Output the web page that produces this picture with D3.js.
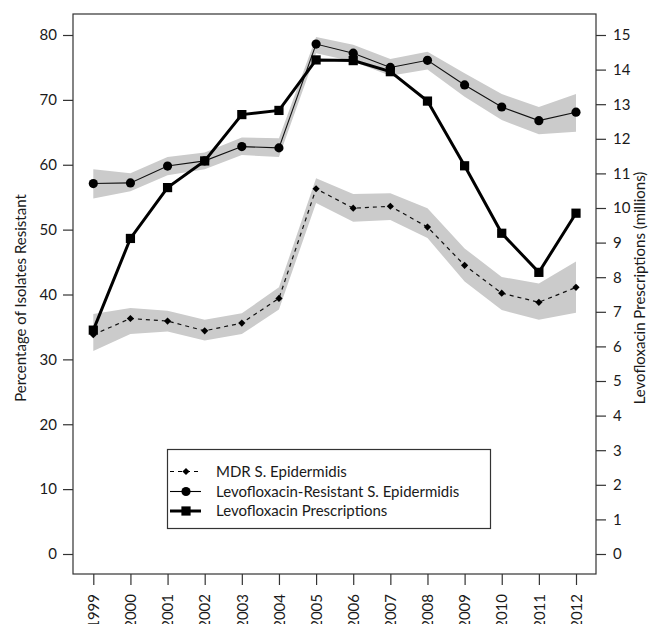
<!DOCTYPE html>
<html>
<head>
<meta charset="utf-8">
<script src="https://cdn.jsdelivr.net/npm/d3@7"></script>
<style>
  body { margin: 0; background: #fff; }
  svg { display: block; }
  text { font-family: Lato, "Open Sans", sans-serif; fill: #1a1a1a; }
</style>
</head>
<body>
<script>
const WIDTH = 655;
const HEIGHT = 624;
const FONT = 15;

const years = [1999, 2000, 2001, 2002, 2003, 2004, 2005, 2006, 2007, 2008, 2009, 2010, 2011, 2012];

// MDR S. epidermidis (% resistant) with shaded band
const mdr     = [33.8, 36.3, 35.9, 34.4, 35.6, 39.4, 56.3, 53.3, 53.6, 50.4, 44.5, 40.2, 38.8, 41.1];
const mdrLow  = [31.3, 33.9, 34.3, 32.9, 33.9, 37.7, 54.1, 51.2, 51.5, 48.7, 42.0, 37.6, 36.1, 37.2];
const mdrHigh = [37.0, 37.9, 37.5, 36.1, 37.1, 41.1, 57.9, 55.5, 55.6, 53.3, 47.1, 42.7, 41.7, 45.1];

// levofloxacin-resistant S. epidermidis (%)
const levoRes     = [57.1, 57.2, 59.8, 60.6, 62.8, 62.6, 78.6, 77.2, 75.0, 76.1, 72.3, 68.9, 66.8, 68.1];
const levoResLow  = [54.8, 55.9, 58.4, 59.3, 61.5, 61.2, 77.2, 75.9, 73.7, 74.7, 70.5, 66.9, 64.7, 65.1];
const levoResHigh = [59.3, 58.7, 61.2, 61.9, 64.2, 64.1, 79.7, 78.5, 76.3, 77.4, 74.1, 70.9, 68.9, 70.9];

// prescriptions (millions), right axis
const prescriptions = [6.47, 9.12, 10.59, 11.36, 12.70, 12.82, 14.28, 14.26, 13.94, 13.09, 11.22, 9.27, 8.14, 9.85];

const leftTicks = [0, 10, 20, 30, 40, 50, 60, 70, 80];
const rightTicks = [0, 1, 2, 3, 4, 5, 6, 7, 8, 9, 10, 11, 12, 13, 14, 15];

const legendLabels = ["MDR S. Epidermidis", "Levofloxacin-Resistant S. Epidermidis", "Levofloxacin Prescriptions"];

const box = { left: 73, top: 14, right: 596, bottom: 574 };

const x = d3.scaleLinear().domain([1999, 2012]).range([93.3, 576]);
const yL = d3.scaleLinear().domain([0, 80]).range([554, 35]);
const yR = d3.scaleLinear().domain([0, 15]).range([554, 35]);

const svg = d3.select("body")
    .append("svg")
    .attr("width", WIDTH)
    .attr("height", HEIGHT);

// bands
const band = (low, high) => d3.area()
    .x((d, i) => x(years[i]))
    .y0((d, i) => yL(low[i]))
    .y1((d, i) => yL(high[i]));

svg.append("path")
    .datum(years)
    .attr("d", band(levoResLow, levoResHigh))
    .attr("fill", "#cbcbcb");

svg.append("path")
    .datum(years)
    .attr("d", band(mdrLow, mdrHigh))
    .attr("fill", "#cbcbcb");

// lines
const lineL = d3.line().x((d, i) => x(years[i])).y(d => yL(d));
const lineR = d3.line().x((d, i) => x(years[i])).y(d => yR(d));

svg.append("path")
    .datum(mdr)
    .attr("d", lineL)
    .attr("fill", "none")
    .attr("stroke", "#111")
    .attr("stroke-width", 1.2)
    .attr("stroke-dasharray", "4,4");

svg.append("path")
    .datum(levoRes)
    .attr("d", lineL)
    .attr("fill", "none")
    .attr("stroke", "#111")
    .attr("stroke-width", 1.1);

svg.append("path")
    .datum(prescriptions)
    .attr("d", lineR)
    .attr("fill", "none")
    .attr("stroke", "#000")
    .attr("stroke-width", 3);

// markers
const diamond = d3.symbol(d3.symbolSquare, 26);
const circle = d3.symbol(d3.symbolCircle, 66);
const square = d3.symbol(d3.symbolSquare, 85);

svg.selectAll(".mdr-pt")
    .data(mdr)
    .enter()
    .append("path")
    .attr("class", "mdr-pt")
    .attr("d", diamond)
    .attr("transform", (d, i) => `translate(${x(years[i])},${yL(d)}) rotate(45)`)
    .attr("fill", "#000");

svg.selectAll(".res-pt")
    .data(levoRes)
    .enter()
    .append("path")
    .attr("class", "res-pt")
    .attr("d", circle)
    .attr("transform", (d, i) => `translate(${x(years[i])},${yL(d)})`)
    .attr("fill", "#000");

svg.selectAll(".rx-pt")
    .data(prescriptions)
    .enter()
    .append("path")
    .attr("class", "rx-pt")
    .attr("d", square)
    .attr("transform", (d, i) => `translate(${x(years[i])},${yR(d)})`)
    .attr("fill", "#000");

// frame
svg.append("rect")
    .attr("x", box.left)
    .attr("y", box.top)
    .attr("width", box.right - box.left)
    .attr("height", box.bottom - box.top)
    .attr("fill", "none")
    .attr("stroke", "#333")
    .attr("stroke-width", 1.2);

// axes (R style: ticks off the frame, no domain line)
const styleAxis = g => {
    g.select(".domain").remove();
    g.selectAll(".tick line").attr("stroke", "#333").attr("stroke-width", 1.2);
    g.selectAll(".tick text")
        .attr("fill", "#1a1a1a")
        .style("font-family", "Lato, sans-serif")
        .style("font-size", FONT + "px");
};

svg.append("g")
    .attr("transform", `translate(${box.left},0)`)
    .call(d3.axisLeft(yL).tickValues(leftTicks).tickSize(10).tickPadding(6))
    .call(styleAxis);

svg.append("g")
    .attr("transform", `translate(${box.right},0)`)
    .call(d3.axisRight(yR).tickValues(rightTicks).tickSize(10).tickPadding(7))
    .call(styleAxis);

svg.append("g")
    .attr("transform", `translate(0,${box.bottom})`)
    .call(d3.axisBottom(x).tickValues(years).tickFormat(d3.format("d")).tickSize(11))
    .call(styleAxis)
    .call(g => g.selectAll(".tick text")
        .attr("transform", "rotate(-90)")
        .attr("x", -20)
        .attr("y", 0)
        .attr("dy", "0.35em")
        .attr("text-anchor", "end"));

// axis titles
svg.append("text")
    .attr("transform", "translate(26,298) rotate(-90)")
    .attr("text-anchor", "middle")
    .style("font-size", FONT + "px")
    .text("Percentage of Isolates Resistant");

svg.append("text")
    .attr("transform", "translate(645,288) rotate(-90)")
    .attr("text-anchor", "middle")
    .style("font-size", FONT + "px")
    .text("Levofloxacin Prescriptions (millions)");

// legend
const legend = svg.append("g");
legend.append("rect")
    .attr("x", 167.5)
    .attr("y", 449.5)
    .attr("width", 323)
    .attr("height", 79)
    .attr("fill", "#fff")
    .attr("stroke", "#333")
    .attr("stroke-width", 1.2);

const legendRows = [
    { y: 471.5, dash: "4,4", width: 1.2, marker: diamond, rot: 45 },
    { y: 491.5, dash: null, width: 1.1, marker: circle, rot: 0 },
    { y: 511, dash: null, width: 3, marker: square, rot: 0 }
];

legendRows.forEach((row, i) => {
    legend.append("line")
        .attr("x1", 170)
        .attr("x2", 201)
        .attr("y1", row.y)
        .attr("y2", row.y)
        .attr("stroke", "#000")
        .attr("stroke-width", row.width)
        .attr("stroke-dasharray", row.dash);
    legend.append("path")
        .attr("d", row.marker)
        .attr("transform", `translate(186,${row.y}) rotate(${row.rot})`)
        .attr("fill", "#000");
    legend.append("text")
        .attr("x", 216)
        .attr("y", row.y)
        .attr("dy", "0.35em")
        .style("font-size", FONT + "px")
        .text(legendLabels[i]);
});
</script>
</body>
</html>
